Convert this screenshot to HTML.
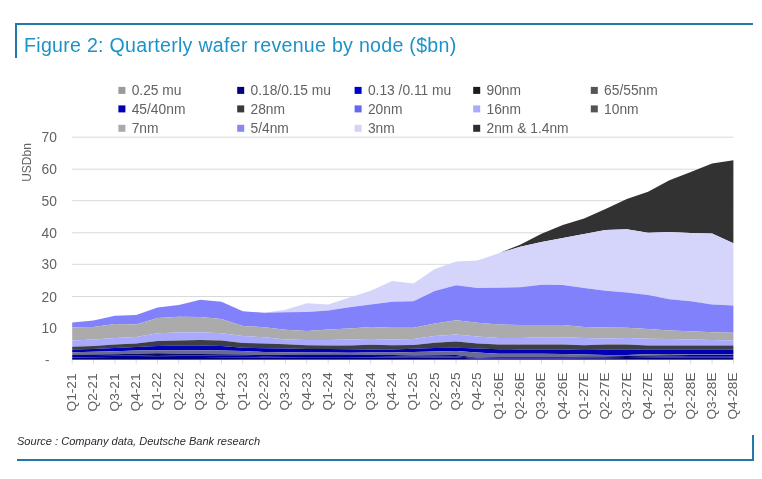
<!DOCTYPE html>
<html><head><meta charset="utf-8"><title>Figure 2</title>
<style>
html,body{margin:0;padding:0;background:#fff;}
body{width:762px;height:479px;overflow:hidden;position:relative;font-family:"Liberation Sans",sans-serif;}
.title{position:absolute;left:24.0px;top:32.9px;font-size:19.6px;line-height:24px;color:#1c93c8;white-space:nowrap;letter-spacing:0.28px;}
.src{position:absolute;left:16.6px;top:434.6px;font-size:11.05px;line-height:13px;font-style:italic;color:#2a2a2a;white-space:nowrap;}
.bl{position:absolute;background:#2079a6;}
svg{position:absolute;left:0;top:0;will-change:transform;}
.title,.src{will-change:transform;}
svg text{font-family:"Liberation Sans",sans-serif;font-size:13.4px;fill:#626262;}
</style></head><body>
<div class="bl" style="left:15px;top:23px;width:737.5px;height:2px"></div>
<div class="bl" style="left:15px;top:23px;width:2px;height:34.5px"></div>
<div class="bl" style="left:17px;top:459px;width:737px;height:2px"></div>
<div class="bl" style="left:752px;top:435px;width:2px;height:26px"></div>
<div class="title">Figure 2: Quarterly wafer revenue by node ($bn)</div>
<div class="src">Source : Company data, Deutsche Bank research</div>
<svg width="762" height="479" viewBox="0 0 762 479">
<g stroke="#d9d9d9" stroke-width="1"><line x1="72.2" x2="733.5" y1="137.2" y2="137.2"/><line x1="72.2" x2="733.5" y1="169.2" y2="169.2"/><line x1="72.2" x2="733.5" y1="200.7" y2="200.7"/><line x1="72.2" x2="733.5" y1="232.8" y2="232.8"/><line x1="72.2" x2="733.5" y1="264.3" y2="264.3"/><line x1="72.2" x2="733.5" y1="296.5" y2="296.5"/></g>
<g stroke="#d9d9d9" stroke-width="1"><line x1="72.2" x2="72.2" y1="360" y2="363.6"/><line x1="93.5" x2="93.5" y1="360" y2="363.6"/><line x1="114.9" x2="114.9" y1="360" y2="363.6"/><line x1="136.2" x2="136.2" y1="360" y2="363.6"/><line x1="157.5" x2="157.5" y1="360" y2="363.6"/><line x1="178.8" x2="178.8" y1="360" y2="363.6"/><line x1="200.2" x2="200.2" y1="360" y2="363.6"/><line x1="221.5" x2="221.5" y1="360" y2="363.6"/><line x1="242.8" x2="242.8" y1="360" y2="363.6"/><line x1="264.2" x2="264.2" y1="360" y2="363.6"/><line x1="285.5" x2="285.5" y1="360" y2="363.6"/><line x1="306.8" x2="306.8" y1="360" y2="363.6"/><line x1="328.2" x2="328.2" y1="360" y2="363.6"/><line x1="349.5" x2="349.5" y1="360" y2="363.6"/><line x1="370.8" x2="370.8" y1="360" y2="363.6"/><line x1="392.1" x2="392.1" y1="360" y2="363.6"/><line x1="413.5" x2="413.5" y1="360" y2="363.6"/><line x1="434.8" x2="434.8" y1="360" y2="363.6"/><line x1="456.1" x2="456.1" y1="360" y2="363.6"/><line x1="477.5" x2="477.5" y1="360" y2="363.6"/><line x1="498.8" x2="498.8" y1="360" y2="363.6"/><line x1="520.1" x2="520.1" y1="360" y2="363.6"/><line x1="541.5" x2="541.5" y1="360" y2="363.6"/><line x1="562.8" x2="562.8" y1="360" y2="363.6"/><line x1="584.1" x2="584.1" y1="360" y2="363.6"/><line x1="605.5" x2="605.5" y1="360" y2="363.6"/><line x1="626.8" x2="626.8" y1="360" y2="363.6"/><line x1="648.1" x2="648.1" y1="360" y2="363.6"/><line x1="669.4" x2="669.4" y1="360" y2="363.6"/><line x1="690.8" x2="690.8" y1="360" y2="363.6"/><line x1="712.1" x2="712.1" y1="360" y2="363.6"/><line x1="733.4" x2="733.4" y1="360" y2="363.6"/></g>
<g><polygon fill="#323232" points="72.2,322.6 93.5,320.4 114.9,315.7 136.2,314.9 157.5,307.6 178.8,305.0 200.2,299.8 221.5,301.8 242.8,311.3 264.2,312.7 285.5,309.8 306.8,303.2 328.2,304.4 349.5,297.5 370.8,290.8 392.1,280.9 413.5,283.6 434.8,269.1 456.1,261.5 477.5,260.4 498.8,253.3 520.1,244.7 541.5,233.7 562.8,225.0 584.1,218.5 605.5,209.0 626.8,199.0 648.1,191.7 669.4,180.2 690.8,172.0 712.1,163.4 733.4,160.2 733.4,243.3 712.1,233.4 690.8,233.1 669.4,232.0 648.1,232.8 626.8,229.3 605.5,230.0 584.1,234.1 562.8,237.9 541.5,242.0 520.1,246.7 498.8,253.3 477.5,260.4 456.1,261.5 434.8,269.1 413.5,283.6 392.1,280.9 370.8,290.8 349.5,297.5 328.2,304.4 306.8,303.2 285.5,309.8 264.2,312.7 242.8,311.3 221.5,301.8 200.2,299.8 178.8,305.0 157.5,307.6 136.2,314.9 114.9,315.7 93.5,320.4 72.2,322.6"/><polygon fill="#d5d5fb" points="72.2,322.6 93.5,320.4 114.9,315.7 136.2,314.9 157.5,307.6 178.8,305.0 200.2,299.8 221.5,301.8 242.8,311.3 264.2,312.7 285.5,309.8 306.8,303.2 328.2,304.4 349.5,297.5 370.8,290.8 392.1,280.9 413.5,283.6 434.8,269.1 456.1,261.5 477.5,260.4 498.8,253.3 520.1,246.7 541.5,242.0 562.8,237.9 584.1,234.1 605.5,230.0 626.8,229.3 648.1,232.8 669.4,232.0 690.8,233.1 712.1,233.4 733.4,243.3 733.4,305.4 712.1,304.5 690.8,301.3 669.4,299.2 648.1,295.0 626.8,292.5 605.5,290.8 584.1,288.0 562.8,285.0 541.5,284.8 520.1,287.2 498.8,287.7 477.5,288.0 456.1,285.2 434.8,291.0 413.5,301.3 392.1,301.8 370.8,304.5 349.5,307.3 328.2,310.6 306.8,312.1 285.5,312.3 264.2,312.7 242.8,311.3 221.5,301.8 200.2,299.8 178.8,305.0 157.5,307.6 136.2,314.9 114.9,315.7 93.5,320.4 72.2,322.6"/><polygon fill="#8181fc" points="72.2,322.6 93.5,320.4 114.9,315.7 136.2,314.9 157.5,307.6 178.8,305.0 200.2,299.8 221.5,301.8 242.8,311.3 264.2,312.7 285.5,312.3 306.8,312.1 328.2,310.6 349.5,307.3 370.8,304.5 392.1,301.8 413.5,301.3 434.8,291.0 456.1,285.2 477.5,288.0 498.8,287.7 520.1,287.2 541.5,284.8 562.8,285.0 584.1,288.0 605.5,290.8 626.8,292.5 648.1,295.0 669.4,299.2 690.8,301.3 712.1,304.5 733.4,305.4 733.4,332.8 712.1,332.2 690.8,331.3 669.4,330.6 648.1,329.1 626.8,327.8 605.5,327.5 584.1,327.0 562.8,325.0 541.5,325.0 520.1,325.0 498.8,324.6 477.5,322.8 456.1,320.2 434.8,323.4 413.5,327.8 392.1,327.8 370.8,327.0 349.5,328.6 328.2,329.4 306.8,331.1 285.5,329.8 264.2,327.2 242.8,325.9 221.5,319.1 200.2,317.1 178.8,316.8 157.5,318.0 136.2,324.6 114.9,323.9 93.5,326.9 72.2,327.2"/><polygon fill="#ababab" points="72.2,327.2 93.5,326.9 114.9,323.9 136.2,324.6 157.5,318.0 178.8,316.8 200.2,317.1 221.5,319.1 242.8,325.9 264.2,327.2 285.5,329.8 306.8,331.1 328.2,329.4 349.5,328.6 370.8,327.0 392.1,327.8 413.5,327.8 434.8,323.4 456.1,320.2 477.5,322.8 498.8,324.6 520.1,325.0 541.5,325.0 562.8,325.0 584.1,327.0 605.5,327.5 626.8,327.8 648.1,329.1 669.4,330.6 690.8,331.3 712.1,332.2 733.4,332.8 733.4,340.4 712.1,340.1 690.8,339.6 669.4,339.1 648.1,338.8 626.8,338.0 605.5,338.5 584.1,338.0 562.8,337.2 541.5,337.2 520.1,338.0 498.8,338.0 477.5,336.5 456.1,334.4 434.8,336.0 413.5,339.1 392.1,339.6 370.8,339.1 349.5,339.6 328.2,340.1 306.8,340.1 285.5,339.6 264.2,337.2 242.8,336.0 221.5,333.3 200.2,332.2 178.8,332.5 157.5,333.3 136.2,336.9 114.9,338.0 93.5,339.6 72.2,340.4"/><polygon fill="#a9a9fd" points="72.2,340.4 93.5,339.6 114.9,338.0 136.2,336.9 157.5,333.3 178.8,332.5 200.2,332.2 221.5,333.3 242.8,336.0 264.2,337.2 285.5,339.6 306.8,340.1 328.2,340.1 349.5,339.6 370.8,339.1 392.1,339.6 413.5,339.1 434.8,336.0 456.1,334.4 477.5,336.5 498.8,338.0 520.1,338.0 541.5,337.2 562.8,337.2 584.1,338.0 605.5,338.5 626.8,338.0 648.1,338.8 669.4,339.1 690.8,339.6 712.1,340.1 733.4,340.4 733.4,345.4 712.1,345.4 690.8,345.4 669.4,345.4 648.1,345.4 626.8,344.6 605.5,344.6 584.1,345.2 562.8,344.4 541.5,344.4 520.1,344.4 498.8,344.4 477.5,343.5 456.1,341.6 434.8,342.8 413.5,344.9 392.1,345.2 370.8,344.8 349.5,345.4 328.2,345.4 306.8,345.2 285.5,344.3 264.2,343.4 242.8,343.0 221.5,340.4 200.2,340.0 178.8,340.5 157.5,341.0 136.2,343.5 114.9,344.6 93.5,345.9 72.2,346.8"/><polygon fill="#3e3e46" points="72.2,346.8 93.5,345.9 114.9,344.6 136.2,343.5 157.5,341.0 178.8,340.5 200.2,340.0 221.5,340.4 242.8,343.0 264.2,343.4 285.5,344.3 306.8,345.2 328.2,345.4 349.5,345.4 370.8,344.8 392.1,345.2 413.5,344.9 434.8,342.8 456.1,341.6 477.5,343.5 498.8,344.4 520.1,344.4 541.5,344.4 562.8,344.4 584.1,345.2 605.5,344.6 626.8,344.6 648.1,345.4 669.4,345.4 690.8,345.4 712.1,345.4 733.4,345.4 733.4,349.8 712.1,349.8 690.8,349.8 669.4,349.8 648.1,349.8 626.8,349.7 605.5,349.7 584.1,350.0 562.8,349.5 541.5,349.5 520.1,349.4 498.8,349.2 477.5,348.6 456.1,347.8 434.8,348.0 413.5,348.8 392.1,349.4 370.8,349.4 349.5,349.2 328.2,349.0 306.8,349.1 285.5,348.6 264.2,348.2 242.8,347.7 221.5,345.9 200.2,345.4 178.8,345.4 157.5,346.1 136.2,347.0 114.9,348.0 93.5,349.0 72.2,349.6"/><polygon fill="#0000b4" points="72.2,349.6 93.5,349.0 114.9,348.0 136.2,347.0 157.5,346.1 178.8,345.4 200.2,345.4 221.5,345.9 242.8,347.7 264.2,348.2 285.5,348.6 306.8,349.1 328.2,349.0 349.5,349.2 370.8,349.4 392.1,349.4 413.5,348.8 434.8,348.0 456.1,347.8 477.5,348.6 498.8,349.2 520.1,349.4 541.5,349.5 562.8,349.5 584.1,350.0 605.5,349.7 626.8,349.7 648.1,349.8 669.4,349.8 690.8,349.8 712.1,349.8 733.4,349.8 733.4,354.6 712.1,354.6 690.8,354.5 669.4,354.1 648.1,354.3 626.8,355.0 605.5,355.0 584.1,354.4 562.8,353.9 541.5,353.7 520.1,353.7 498.8,353.7 477.5,352.5 456.1,351.1 434.8,351.5 413.5,352.0 392.1,352.4 370.8,352.6 349.5,352.8 328.2,352.6 306.8,352.4 285.5,352.2 264.2,352.0 242.8,351.1 221.5,350.6 200.2,350.2 178.8,350.2 157.5,350.2 136.2,350.6 114.9,351.2 93.5,351.8 72.2,352.2"/><polygon fill="#6a6a98" points="72.2,352.2 93.5,351.8 114.9,351.2 136.2,350.6 157.5,350.2 178.8,350.2 200.2,350.2 221.5,350.6 242.8,351.1 264.2,352.0 285.5,352.2 306.8,352.4 328.2,352.6 349.5,352.8 370.8,352.6 392.1,352.4 413.5,352.0 434.8,351.5 456.1,351.1 477.5,352.5 498.8,353.7 520.1,353.7 541.5,353.7 562.8,353.9 584.1,354.4 605.5,355.0 626.8,355.0 648.1,354.3 669.4,354.1 690.8,354.5 712.1,354.6 733.4,354.6 733.4,354.9 712.1,354.9 690.8,355.0 669.4,355.2 648.1,355.6 626.8,356.0 605.5,356.4 584.1,356.6 562.8,357.0 541.5,357.0 520.1,357.0 498.8,357.1 477.5,357.8 456.1,355.0 434.8,355.2 413.5,355.4 392.1,355.0 370.8,354.8 349.5,354.6 328.2,354.6 306.8,354.6 285.5,354.8 264.2,355.0 242.8,354.4 221.5,354.3 200.2,354.1 178.8,353.8 157.5,353.3 136.2,353.8 114.9,354.2 93.5,354.6 72.2,354.8"/><polygon fill="#0a0a58" points="72.2,356.1 93.5,356.0 114.9,355.7 136.2,355.4 157.5,355.0 178.8,355.4 200.2,355.6 221.5,355.7 242.8,355.8 264.2,356.2 285.5,356.1 306.8,356.0 328.2,356.0 349.5,356.0 370.8,356.1 392.1,356.2 413.5,356.5 434.8,356.4 456.1,356.2 477.5,358.3 498.8,357.8 520.1,357.7 541.5,357.7 562.8,357.7 584.1,357.4 605.5,357.3 626.8,357.0 648.1,356.7 669.4,356.4 690.8,356.2 712.1,356.2 733.4,356.2 733.4,354.9 712.1,354.9 690.8,355.0 669.4,355.2 648.1,355.6 626.8,356.0 605.5,356.4 584.1,356.6 562.8,357.0 541.5,357.0 520.1,357.0 498.8,357.1 477.5,357.8 456.1,355.0 434.8,355.2 413.5,355.4 392.1,355.0 370.8,354.8 349.5,354.6 328.2,354.6 306.8,354.6 285.5,354.8 264.2,355.0 242.8,354.4 221.5,354.3 200.2,354.1 178.8,353.8 157.5,353.3 136.2,353.8 114.9,354.2 93.5,354.6 72.2,354.8"/><polygon fill="#0000a6" points="72.2,357.4 93.5,357.3 114.9,357.1 136.2,356.9 157.5,356.7 178.8,356.9 200.2,357.1 221.5,357.2 242.8,357.2 264.2,357.5 285.5,357.4 306.8,357.3 328.2,357.3 349.5,357.3 370.8,357.4 392.1,357.5 413.5,357.7 434.8,357.6 456.1,357.5 477.5,358.8 498.8,358.5 520.1,358.5 541.5,358.5 562.8,358.5 584.1,358.3 605.5,358.2 626.8,358.0 648.1,357.8 669.4,357.6 690.8,357.5 712.1,357.4 733.4,357.4 733.4,356.2 712.1,356.2 690.8,356.2 669.4,356.4 648.1,356.7 626.8,357.0 605.5,357.3 584.1,357.4 562.8,357.7 541.5,357.7 520.1,357.7 498.8,357.8 477.5,358.3 456.1,356.2 434.8,356.4 413.5,356.5 392.1,356.2 370.8,356.1 349.5,356.0 328.2,356.0 306.8,356.0 285.5,356.1 264.2,356.2 242.8,355.8 221.5,355.7 200.2,355.6 178.8,355.4 157.5,355.0 136.2,355.4 114.9,355.7 93.5,356.0 72.2,356.1"/><polygon fill="#00007a" points="72.2,359.8 93.5,359.8 114.9,359.8 136.2,359.8 157.5,359.8 178.8,359.8 200.2,359.8 221.5,359.8 242.8,359.8 264.2,359.8 285.5,359.8 306.8,359.8 328.2,359.8 349.5,359.8 370.8,359.8 392.1,359.8 413.5,359.8 434.8,359.8 456.1,359.8 477.5,359.8 498.8,359.8 520.1,359.8 541.5,359.8 562.8,359.8 584.1,359.8 605.5,359.8 626.8,359.8 648.1,359.8 669.4,359.8 690.8,359.8 712.1,359.8 733.4,359.8 733.4,357.4 712.1,357.4 690.8,357.5 669.4,357.6 648.1,357.8 626.8,358.0 605.5,358.2 584.1,358.3 562.8,358.5 541.5,358.5 520.1,358.5 498.8,358.5 477.5,358.8 456.1,357.5 434.8,357.6 413.5,357.7 392.1,357.5 370.8,357.4 349.5,357.3 328.2,357.3 306.8,357.3 285.5,357.4 264.2,357.5 242.8,357.2 221.5,357.2 200.2,357.1 178.8,356.9 157.5,356.7 136.2,356.9 114.9,357.1 93.5,357.3 72.2,357.4"/><polygon fill="#8c8c9c" points="72.2,360.0 93.5,360.0 114.9,360.0 136.2,360.0 157.5,360.0 178.8,360.0 200.2,360.0 221.5,360.0 242.8,360.0 264.2,360.0 285.5,360.0 306.8,360.0 328.2,360.0 349.5,360.0 370.8,360.0 392.1,360.0 413.5,360.0 434.8,360.0 456.1,360.0 477.5,360.0 498.8,360.0 520.1,360.0 541.5,360.0 562.8,360.0 584.1,360.0 605.5,360.0 626.8,360.0 648.1,360.0 669.4,360.0 690.8,360.0 712.1,360.0 733.4,360.0 733.4,359.8 712.1,359.8 690.8,359.8 669.4,359.8 648.1,359.8 626.8,359.8 605.5,359.8 584.1,359.8 562.8,359.8 541.5,359.8 520.1,359.8 498.8,359.8 477.5,359.8 456.1,359.8 434.8,359.8 413.5,359.8 392.1,359.8 370.8,359.8 349.5,359.8 328.2,359.8 306.8,359.8 285.5,359.8 264.2,359.8 242.8,359.8 221.5,359.8 200.2,359.8 178.8,359.8 157.5,359.8 136.2,359.8 114.9,359.8 93.5,359.8 72.2,359.8"/></g>
<g><text x="56.9" y="142.2" text-anchor="end" style="font-size:13.8px">70</text><text x="56.9" y="174.2" text-anchor="end" style="font-size:13.8px">60</text><text x="56.9" y="205.7" text-anchor="end" style="font-size:13.8px">50</text><text x="56.9" y="237.8" text-anchor="end" style="font-size:13.8px">40</text><text x="56.9" y="269.3" text-anchor="end" style="font-size:13.8px">30</text><text x="56.9" y="301.5" text-anchor="end" style="font-size:13.8px">20</text><text x="56.9" y="332.8" text-anchor="end" style="font-size:13.8px">10</text><text x="49.5" y="363.8" text-anchor="end">-</text></g>
<text transform="translate(31.0,181.8) rotate(-90)" style="font-size:12px">USDbn</text>
<g><text transform="translate(76.1,373.4) rotate(-90)" text-anchor="end" style="font-size:13.7px">Q1-21</text><text transform="translate(97.4,373.4) rotate(-90)" text-anchor="end" style="font-size:13.7px">Q2-21</text><text transform="translate(118.8,373.4) rotate(-90)" text-anchor="end" style="font-size:13.7px">Q3-21</text><text transform="translate(140.1,373.4) rotate(-90)" text-anchor="end" style="font-size:13.7px">Q4-21</text><text transform="translate(161.4,372.4) rotate(-90)" text-anchor="end" style="font-size:13.7px">Q1-22</text><text transform="translate(182.8,372.4) rotate(-90)" text-anchor="end" style="font-size:13.7px">Q2-22</text><text transform="translate(204.1,372.4) rotate(-90)" text-anchor="end" style="font-size:13.7px">Q3-22</text><text transform="translate(225.4,372.4) rotate(-90)" text-anchor="end" style="font-size:13.7px">Q4-22</text><text transform="translate(246.7,372.4) rotate(-90)" text-anchor="end" style="font-size:13.7px">Q1-23</text><text transform="translate(268.1,372.4) rotate(-90)" text-anchor="end" style="font-size:13.7px">Q2-23</text><text transform="translate(289.4,372.4) rotate(-90)" text-anchor="end" style="font-size:13.7px">Q3-23</text><text transform="translate(310.7,372.4) rotate(-90)" text-anchor="end" style="font-size:13.7px">Q4-23</text><text transform="translate(332.1,372.4) rotate(-90)" text-anchor="end" style="font-size:13.7px">Q1-24</text><text transform="translate(353.4,372.4) rotate(-90)" text-anchor="end" style="font-size:13.7px">Q2-24</text><text transform="translate(374.7,372.4) rotate(-90)" text-anchor="end" style="font-size:13.7px">Q3-24</text><text transform="translate(396.0,372.4) rotate(-90)" text-anchor="end" style="font-size:13.7px">Q4-24</text><text transform="translate(417.4,372.4) rotate(-90)" text-anchor="end" style="font-size:13.7px">Q1-25</text><text transform="translate(438.7,372.4) rotate(-90)" text-anchor="end" style="font-size:13.7px">Q2-25</text><text transform="translate(460.0,372.4) rotate(-90)" text-anchor="end" style="font-size:13.7px">Q3-25</text><text transform="translate(481.4,372.4) rotate(-90)" text-anchor="end" style="font-size:13.7px">Q4-25</text><text transform="translate(502.7,372.4) rotate(-90)" text-anchor="end" style="font-size:13.7px">Q1-26E</text><text transform="translate(524.0,372.4) rotate(-90)" text-anchor="end" style="font-size:13.7px">Q2-26E</text><text transform="translate(545.4,372.4) rotate(-90)" text-anchor="end" style="font-size:13.7px">Q3-26E</text><text transform="translate(566.7,372.4) rotate(-90)" text-anchor="end" style="font-size:13.7px">Q4-26E</text><text transform="translate(588.0,372.4) rotate(-90)" text-anchor="end" style="font-size:13.7px">Q1-27E</text><text transform="translate(609.4,372.4) rotate(-90)" text-anchor="end" style="font-size:13.7px">Q2-27E</text><text transform="translate(630.7,372.4) rotate(-90)" text-anchor="end" style="font-size:13.7px">Q3-27E</text><text transform="translate(652.0,372.4) rotate(-90)" text-anchor="end" style="font-size:13.7px">Q4-27E</text><text transform="translate(673.3,372.4) rotate(-90)" text-anchor="end" style="font-size:13.7px">Q1-28E</text><text transform="translate(694.7,372.4) rotate(-90)" text-anchor="end" style="font-size:13.7px">Q2-28E</text><text transform="translate(716.0,372.4) rotate(-90)" text-anchor="end" style="font-size:13.7px">Q3-28E</text><text transform="translate(737.3,372.4) rotate(-90)" text-anchor="end" style="font-size:13.7px">Q4-28E</text></g>
<g><rect x="118.4" y="86.9" width="7" height="7" fill="#9a9a9a"/><text x="131.7" y="95.3" style="font-size:13.8px">0.25 mu</text><rect x="237.2" y="86.9" width="7" height="7" fill="#000080"/><text x="250.5" y="95.3" style="font-size:13.8px">0.18/0.15 mu</text><rect x="354.6" y="86.9" width="7" height="7" fill="#0000cc"/><text x="367.9" y="95.3" style="font-size:13.8px">0.13 /0.11 mu</text><rect x="473.2" y="86.9" width="7" height="7" fill="#1c1c1c"/><text x="486.5" y="95.3" style="font-size:13.8px">90nm</text><rect x="590.8" y="86.9" width="7" height="7" fill="#555555"/><text x="604.1" y="95.3" style="font-size:13.8px">65/55nm</text><rect x="118.4" y="105.4" width="7" height="7" fill="#0000b0"/><text x="131.7" y="113.8" style="font-size:13.8px">45/40nm</text><rect x="237.2" y="105.4" width="7" height="7" fill="#3a3a3a"/><text x="250.5" y="113.8" style="font-size:13.8px">28nm</text><rect x="354.6" y="105.4" width="7" height="7" fill="#6666ee"/><text x="367.9" y="113.8" style="font-size:13.8px">20nm</text><rect x="473.2" y="105.4" width="7" height="7" fill="#aaaaff"/><text x="486.5" y="113.8" style="font-size:13.8px">16nm</text><rect x="590.8" y="105.4" width="7" height="7" fill="#555555"/><text x="604.1" y="113.8" style="font-size:13.8px">10nm</text><rect x="118.4" y="124.8" width="7" height="7" fill="#aaaaaa"/><text x="131.7" y="133.2" style="font-size:13.8px">7nm</text><rect x="237.2" y="124.8" width="7" height="7" fill="#8888ee"/><text x="250.5" y="133.2" style="font-size:13.8px">5/4nm</text><rect x="354.6" y="124.8" width="7" height="7" fill="#d4d4f4"/><text x="367.9" y="133.2" style="font-size:13.8px">3nm</text><rect x="473.2" y="124.8" width="7" height="7" fill="#2e2e2e"/><text x="486.5" y="133.2" style="font-size:13.8px">2nm &amp; 1.4nm</text></g>
</svg>
</body></html>
